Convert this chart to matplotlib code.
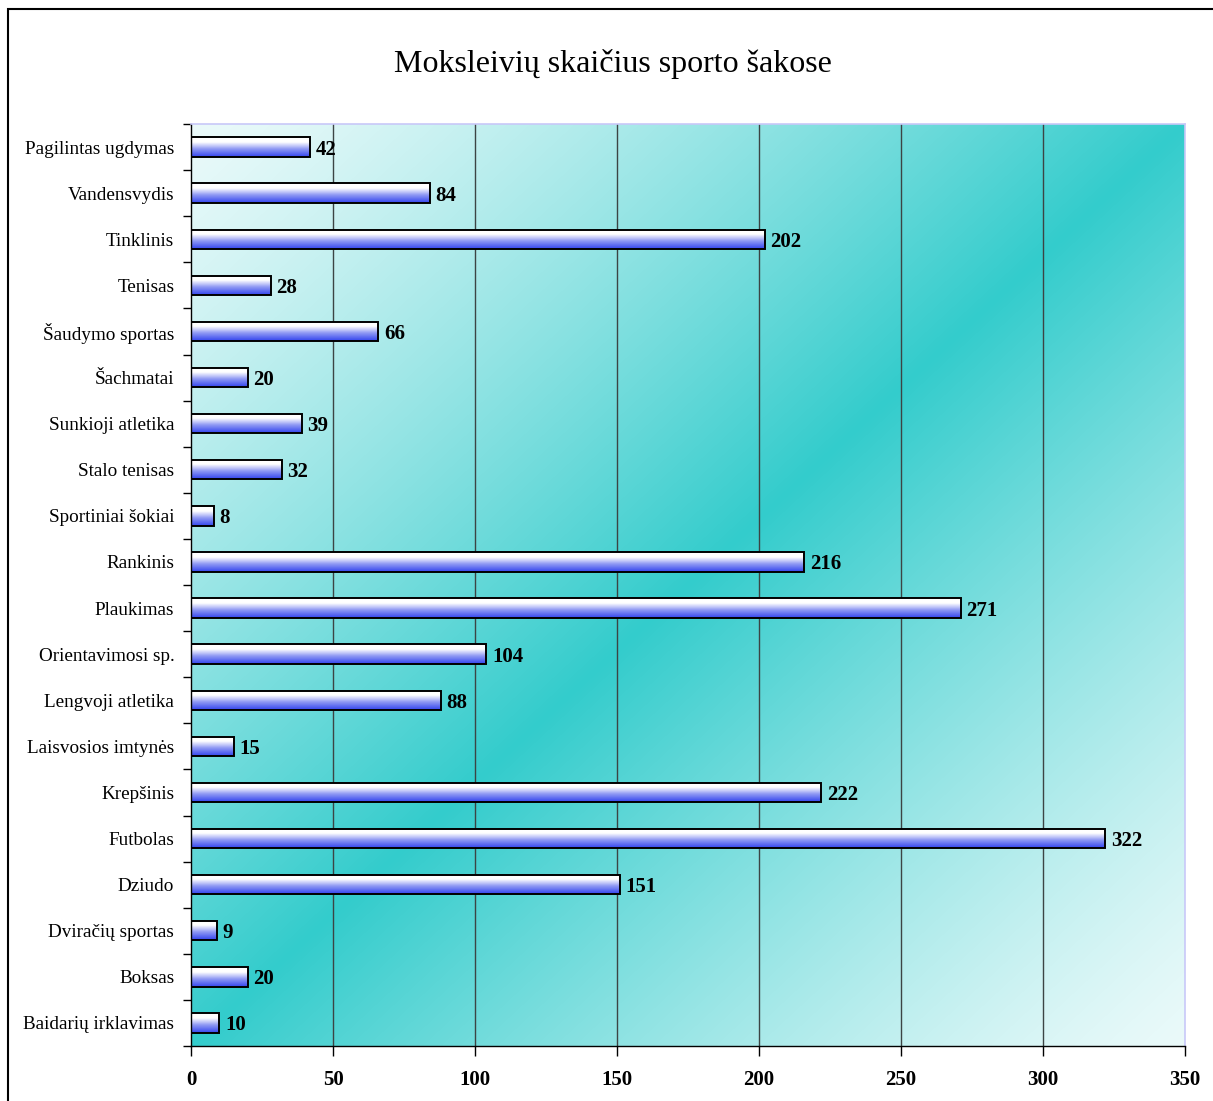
import numpy as np
import matplotlib
matplotlib.use("Agg")
import matplotlib.pyplot as plt
from matplotlib.patches import Rectangle
from matplotlib.colors import LinearSegmentedColormap

plt.rcParams['font.family'] = ['Liberation Serif', 'DejaVu Serif']

title = "Moksleivių skaičius sporto šakose"
categories = ["Baidarių irklavimas", "Boksas", "Dviračių sportas", "Dziudo", "Futbolas",
              "Krepšinis", "Laisvosios imtynės", "Lengvoji atletika", "Orientavimosi sp.",
              "Plaukimas", "Rankinis", "Sportiniai šokiai", "Stalo tenisas",
              "Sunkioji atletika", "Šachmatai", "Šaudymo sportas", "Tenisas",
              "Tinklinis", "Vandensvydis", "Pagilintas ugdymas"]
values = [10, 20, 9, 151, 322, 222, 15, 88, 104, 271, 216, 8, 32, 39, 20, 66, 28, 202, 84, 42]
xticks = [0, 50, 100, 150, 200, 250, 300, 350]

fig = plt.figure(figsize=(12.13, 11.01), dpi=100)
ax = fig.add_axes([191/1213, 55/1101, (1185-191)/1213, (1046-124)/1101])

n = len(categories)
xmax = 350
ax.set_xlim(0, xmax)
ax.set_ylim(-0.5, n - 0.5)

# background gradient
light = np.array([0.92, 0.98, 0.98])
teal = np.array([0.20, 0.80, 0.80])
H, W = 400, 400
u = np.linspace(0, 1, W)[None, :]
v = np.linspace(1, 0, H)[:, None]
t = (u + (1 - v)) / 2
w = (1 - np.abs(2 * t - 1)) ** 1.25
img = light[None, None, :] + (teal - light)[None, None, :] * w[:, :, None]
ax.imshow(img, extent=[0, xmax, -0.5, n - 0.5], aspect='auto', zorder=0, interpolation='bilinear')

for x in xticks[1:-1]:
    ax.axvline(x, color='#3c4444', lw=1.0, zorder=1)

# bars with vertical gradient
bar_h = 0.42
cmap = LinearSegmentedColormap.from_list('bar', [(0.0, '#3344ee'), (0.4, '#8e98f4'),
                                                 (0.75, '#ffffff'), (1.0, '#ffffff')])
grad = np.linspace(0, 1, 64)[:, None]
y = np.arange(n)
bars = ax.barh(y, values, height=bar_h, facecolor='none', edgecolor='black', lw=1.4, zorder=3)
for b in bars:
    x0, y0 = b.get_x(), b.get_y()
    wdt, hgt = b.get_width(), b.get_height()
    im = ax.imshow(grad, extent=[x0, x0 + wdt, y0, y0 + hgt], origin='lower', cmap=cmap,
                   aspect='auto', zorder=2, interpolation='bilinear')
    im.set_clip_path(b)

for yi, val in zip(y, values):
    ax.annotate(str(val), (val, yi), xytext=(4, 0), textcoords='offset points',
                va='center_baseline', ha='left', fontsize=15, fontweight='bold', zorder=4)

ax.set_yticks(y)
ax.set_yticklabels(categories, fontsize=13.8)
ax.set_yticks(np.arange(-0.5, n, 1), minor=True)
ax.tick_params(axis='y', which='major', length=0, pad=12)
ax.tick_params(axis='y', which='minor', length=6, direction='out', width=1)
ax.set_xticks(xticks)
ax.set_xticklabels([str(x) for x in xticks], fontsize=15, fontweight='bold')
ax.tick_params(axis='x', length=7, direction='out', width=1, pad=10)

for s in ['top', 'right']:
    ax.spines[s].set_color('#c8c8f8')
    ax.spines[s].set_linewidth(1.2)
for s in ['left', 'bottom']:
    ax.spines[s].set_color('black')
    ax.spines[s].set_linewidth(1.0)

fig.text((394 + 831) / 2 / 1213, 1 - 64 / 1101, title, ha='center', va='center', fontsize=23)

top = 1 - 9 / 1101
frame = Rectangle((8 / 1213, -0.2), 1.2, top + 0.2, transform=fig.transFigure,
                  fill=False, edgecolor='black', lw=1.5, clip_on=False)
fig.patches.append(frame)

fig.savefig("out.png", dpi=100)
